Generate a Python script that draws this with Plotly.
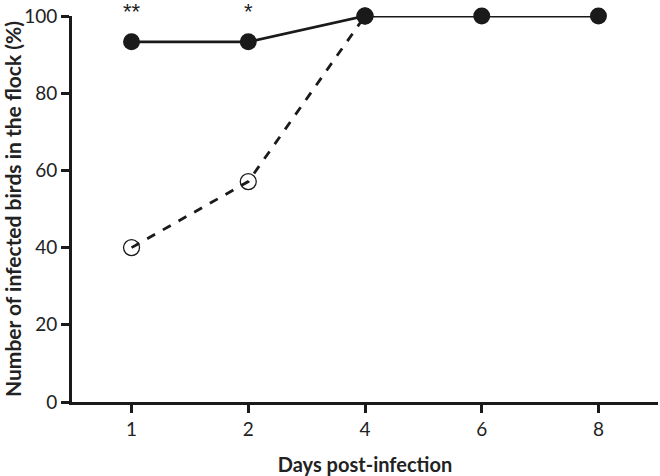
import plotly.graph_objects as go

days = ["1", "2", "4", "6", "8"]
group_a = [93.3, 93.3, 100, 100, 100]   # filled circles, solid line
group_b = [40, 57.1, 100, None, None]   # open circles, dashed line
stars = ["**", "*", "", "", ""]

FONT = "Lato, 'Open Sans', sans-serif"
INK = "#1a1a1a"

fig = go.Figure()
fig.add_trace(go.Scatter(
    x=days, y=group_b, mode="lines+markers",
    line=dict(color=INK, width=2.8, dash="dash"),
    marker=dict(symbol="circle-open", size=16, color=INK, line=dict(width=1.3)),
    cliponaxis=False, showlegend=False,
))
fig.add_trace(go.Scatter(
    x=days, y=group_a, mode="lines+markers",
    line=dict(color=INK, width=2.8),
    marker=dict(symbol="circle", size=17, color=INK),
    cliponaxis=False, showlegend=False,
))

# significance marks above the first two days (category index)
for i, s in enumerate(stars):
    if s:
        fig.add_annotation(x=i, y=1.0, yref="paper", text=s, showarrow=False,
                           yanchor="middle", yshift=5,
                           font=dict(family="'Liberation Sans', Arial", size=22, color="#222"))

fig.update_layout(
    width=660, height=476,
    margin=dict(l=72, r=2, t=16, b=71),
    paper_bgcolor="white", plot_bgcolor="white",
    font=dict(family=FONT, size=19, color="#222"),
    xaxis=dict(
        type="category", range=[-0.51, 4.51],
        showline=True, linecolor=INK, linewidth=2.8,
        ticks="outside", ticklen=8, tickwidth=2.5, tickcolor=INK,
        showgrid=False, zeroline=False,
        title=dict(text="<b>Days post-infection</b>", standoff=20,
                   font=dict(family=FONT, size=20)),
    ),
    yaxis=dict(
        range=[0, 100], tickvals=[0, 20, 40, 60, 80, 100],
        showline=True, linecolor=INK, linewidth=2.8,
        ticks="outside", ticklen=8, tickwidth=2.5, tickcolor=INK,
        showgrid=False, zeroline=False,
        title=dict(text="<b>Number of infected birds in the flock (%)</b>", standoff=5,
                   font=dict(family=FONT, size=21)),
    ),
)

fig.write_html("out.html", config={"displayModeBar": False},
               post_script="document.body.style.margin='0px';")
